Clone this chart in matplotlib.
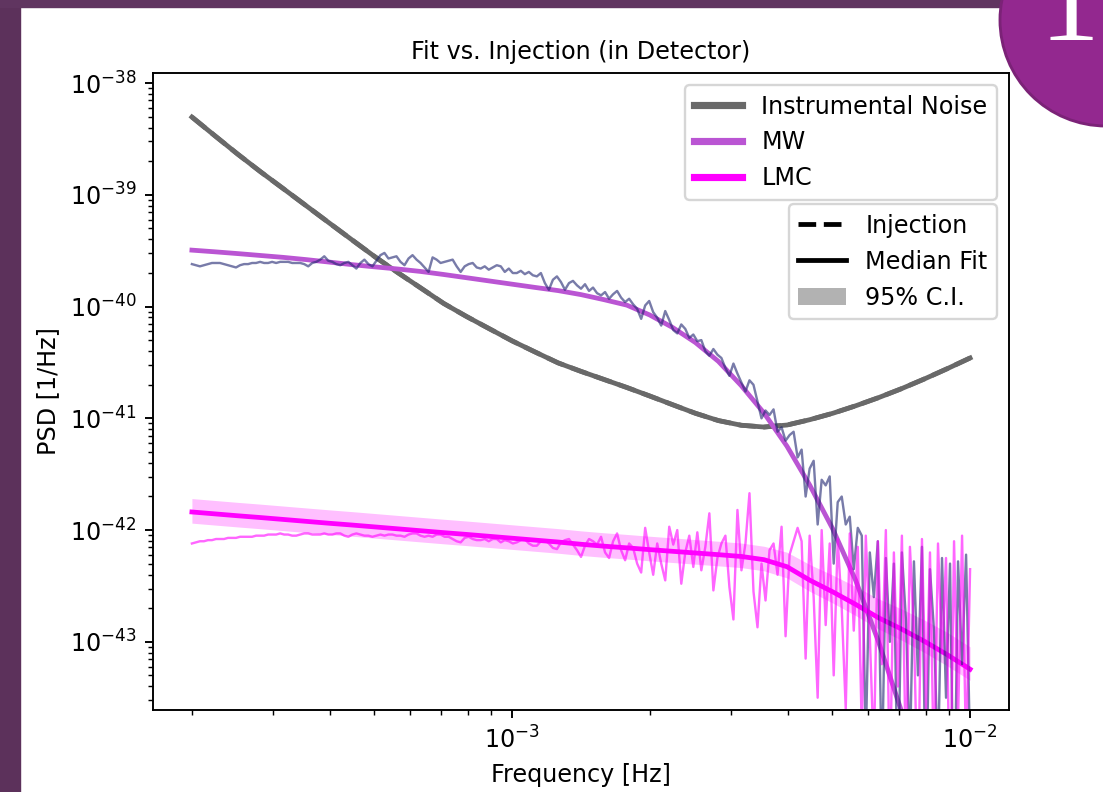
import numpy as np
import matplotlib
matplotlib.use("Agg")
import matplotlib.pyplot as plt
from matplotlib.lines import Line2D
from matplotlib.patches import Patch, Rectangle, Circle

# smooth curves, log10(PSD) read every 0.05 decade from 2e-4 to 1e-2 Hz
noise_psd = [-38.304, -38.471, -38.636, -38.794, -38.946, -39.099, -39.252, -39.404, -39.555, -39.697,
             -39.834, -39.972, -40.089, -40.199, -40.308, -40.407, -40.504, -40.580, -40.652, -40.724,
             -40.800, -40.878, -40.955, -41.020, -41.062, -41.078, -41.060, -41.012, -40.955, -40.888,
             -40.815, -40.735, -40.648, -40.556, -40.460]
mw_fit = [-39.495, -39.510, -39.526, -39.543, -39.560, -39.580, -39.602, -39.625, -39.645, -39.664,
          -39.686, -39.713, -39.742, -39.771, -39.800, -39.829, -39.857, -39.893, -39.938, -39.987,
          -40.075, -40.187, -40.322, -40.490, -40.707, -40.954, -41.250, -41.600, -41.990, -42.450,
          -43.000, -43.620, -44.300, -45.050, -45.850]
lmc_fit = [-41.838, -41.855, -41.872, -41.888, -41.905, -41.922, -41.939, -41.955, -41.972, -41.989,
           -42.006, -42.023, -42.039, -42.056, -42.073, -42.090, -42.107, -42.127, -42.144, -42.159,
           -42.175, -42.190, -42.205, -42.220, -42.236, -42.265, -42.328, -42.449, -42.553, -42.665,
           -42.785, -42.885, -42.995, -43.115, -43.245]
lmc_hi = [-41.718, -41.735, -41.752, -41.768, -41.785, -41.802, -41.819, -41.835, -41.852, -41.869,
          -41.886, -41.903, -41.919, -41.936, -41.953, -41.970, -41.987, -42.007, -42.024, -42.039,
          -42.055, -42.070, -42.085, -42.100, -42.116, -42.145, -42.198, -42.309, -42.403, -42.505,
          -42.615, -42.705, -42.805, -42.915, -43.045]
lmc_lo = [-41.938, -41.955, -41.972, -41.988, -42.005, -42.022, -42.039, -42.055, -42.072, -42.089,
          -42.106, -42.123, -42.139, -42.156, -42.173, -42.190, -42.207, -42.227, -42.244, -42.259,
          -42.275, -42.290, -42.305, -42.320, -42.336, -42.365, -42.428, -42.549, -42.653, -42.765,
          -42.885, -42.985, -43.095, -43.215, -43.345]

# injected data (log10 PSD), log spaced bins from 2e-4 to 1e-2 Hz
mw_data = [
    -39.62, -39.63, -39.64, -39.63, -39.62, -39.61, -39.61, -39.61, -39.62, -39.63,
    -39.64, -39.65, -39.63, -39.62, -39.62, -39.61, -39.61, -39.60, -39.61, -39.61,
    -39.60, -39.61, -39.60, -39.60, -39.60, -39.61, -39.61, -39.61, -39.62, -39.64,
    -39.61, -39.60, -39.58, -39.55, -39.59,
    -39.60, -39.62, -39.63, -39.61, -39.60, -39.63, -39.66, -39.61, -39.58, -39.62,
    -39.64, -39.59, -39.54, -39.52, -39.57, -39.56, -39.55, -39.60, -39.63, -39.57,
    -39.54, -39.58, -39.61, -39.65, -39.69, -39.56, -39.58, -39.61, -39.60, -39.59,
    -39.58, -39.64, -39.69, -39.64, -39.62, -39.61, -39.65,
    -39.66, -39.64, -39.67, -39.65, -39.63, -39.64, -39.69, -39.66, -39.70, -39.70,
    -39.68, -39.71, -39.69, -39.72, -39.73, -39.70, -39.79, -39.85, -39.76, -39.73,
    -39.78, -39.85, -39.79, -39.77, -39.81, -39.84, -39.80, -39.86, -39.83, -39.88,
    -39.90, -39.87, -39.93, -39.89, -39.86, -39.92, -39.96, -39.93, -39.98, -40.02,
    -40.11, -39.99, -39.95, -40.05, -40.10, -40.17, -40.04, -40.12, -40.21, -40.24,
    -40.16, -40.20, -40.28, -40.25, -40.31,
    -40.30, -40.40, -40.44, -40.38, -40.43, -40.46, -40.55, -40.62, -40.51, -40.60,
    -40.68, -40.76, -40.66, -40.70, -40.85, -41.00, -40.93, -40.97, -40.92, -41.12,
    -41.08, -41.20, -41.15, -41.12, -41.35,
    -41.28, -41.70, -41.45, -41.38, -41.95, -41.55, -41.60, -41.52, -42.30, -41.75,
    -41.70, -41.95, -41.88, -42.35, -41.98,
    -42.05, -43.90, -42.20, -42.60, -42.10, -44.20, -42.25, -43.00, -42.30, -44.50,
    -42.20, -42.80, -44.00, -42.28, -43.30, -42.15, -44.60, -42.35, -42.90, -44.10,
    -42.25, -43.50, -42.30, -44.80, -42.28, -43.20, -42.22, -44.00,
]
lmc_data = [
    -42.12, -42.11, -42.10, -42.10, -42.09, -42.09, -42.08, -42.08, -42.08, -42.07,
    -42.07, -42.07, -42.06, -42.06, -42.06, -42.06, -42.05, -42.05, -42.05, -42.04,
    -42.04, -42.04, -42.03, -42.04, -42.04, -42.05, -42.05, -42.04, -42.03, -42.03,
    -42.04, -42.04, -42.04, -42.03, -42.04,
    -42.04, -42.03, -42.03, -42.05, -42.06, -42.04, -42.03, -42.04, -42.05, -42.05,
    -42.06, -42.05, -42.04, -42.05, -42.04, -42.04, -42.05, -42.05, -42.06, -42.04,
    -42.03, -42.03, -42.05, -42.06, -42.05, -42.06, -42.04, -42.04, -42.06, -42.06,
    -42.08, -42.10, -42.11, -42.07, -42.06, -42.08, -42.09,
    -42.09, -42.08, -42.10, -42.08, -42.08, -42.11, -42.09, -42.10, -42.12, -42.11,
    -42.09, -42.08, -42.12, -42.14, -42.14, -42.10, -42.09, -42.12, -42.16, -42.17,
    -42.11, -42.09, -42.08, -42.13, -42.18, -42.24, -42.14, -42.08, -42.10, -42.13,
    -42.06, -42.20, -42.25, -42.10, -42.03, -42.18, -42.27, -42.12, -42.16, -42.30,
    -42.38, -41.98, -42.20, -42.40, -42.12, -42.30, -42.45, -41.97, -42.13, -42.00,
    -42.48, -42.20, -42.05, -42.33, -42.02,
    -42.36, -42.15, -41.85, -42.54, -42.25, -42.12, -42.05, -42.51, -42.80, -41.82,
    -42.36, -42.12, -41.67, -42.55, -42.87, -42.30, -42.63, -42.18, -42.12, -42.40,
    -41.97, -42.95, -42.22, -42.10, -41.98,
    -42.10, -43.15, -42.05, -42.60, -43.50, -42.00, -42.85, -42.12, -43.30, -42.08,
    -42.70, -43.60, -42.03, -42.90, -42.15,
    -43.80, -42.05, -42.95, -44.00, -42.10, -43.20, -42.00, -44.30, -42.20, -43.40,
    -42.05, -44.10, -42.15, -42.90, -44.50, -42.08, -43.60, -42.20, -44.20, -42.12,
    -43.10, -42.25, -44.60, -42.10, -43.70, -42.05, -44.00, -42.35,
]

f_fit = np.geomspace(2e-4, 1e-2, len(noise_psd))
f_mw = np.geomspace(2e-4, 1e-2, len(mw_data))
f_lmc = np.geomspace(2e-4, 1e-2, len(lmc_data))

def p(v):
    return 10.0 ** np.array(v)

W, H, DPI = 1103, 792, 172
fig = plt.figure(figsize=(W / DPI, H / DPI), dpi=DPI)
fig.patch.set_facecolor("white")

# slide background bits
fig.add_artist(Rectangle((0, 0), 20 / W, 1, transform=fig.transFigure, color="#5c315b", zorder=-5))
fig.add_artist(Rectangle((0, 1 - 7 / H), 1, 7 / H, transform=fig.transFigure, color="#603560", zorder=-5))

ax = fig.add_axes([153 / W, 1 - 710 / H, (1009 - 153) / W, (710 - 73) / H])

ax.fill_between(f_fit, p(lmc_lo), p(lmc_hi), color="magenta", alpha=0.25, lw=0)
ax.plot(f_fit, p(noise_psd), color="dimgray", ls="--", lw=2)
ax.plot(f_fit, p(noise_psd), color="dimgray", lw=2)
ax.plot(f_fit, p(mw_fit), color="mediumorchid", lw=2)
ax.plot(f_fit, p(lmc_fit), color="magenta", lw=2)
ax.plot(f_mw, p(mw_data), color="#1f2470", alpha=0.6, lw=1.0)
ax.plot(f_lmc, p(lmc_data), color="magenta", alpha=0.6, lw=1.0)

ax.set_xscale("log")
ax.set_yscale("log")
ax.set_ylim(10 ** -43.61, 10 ** -37.91)
ax.set_xlabel("Frequency [Hz]")
ax.set_ylabel("PSD [1/Hz]")
ax.set_title("Fit vs. Injection (in Detector)", fontsize=10)

h1 = [Line2D([], [], color="dimgray", lw=3),
      Line2D([], [], color="mediumorchid", lw=3),
      Line2D([], [], color="magenta", lw=3)]
leg1 = ax.legend(h1, ["Instrumental Noise", "MW", "LMC"], loc="upper right")
ax.add_artist(leg1)
h2 = [Line2D([], [], color="k", ls="--", lw=2),
      Line2D([], [], color="k", lw=2),
      Patch(facecolor="k", alpha=0.3, lw=0)]
ax.legend(h2, ["Injection", "Median Fit", "95% C.I."], loc="upper right", bbox_to_anchor=(1, 0.813))

# slide number badge
fig.add_artist(Circle((1106 / DPI, (H - 20) / DPI), 106 / DPI, transform=fig.dpi_scale_trans,
                      facecolor="#93288f", edgecolor="#7b2277", lw=1.2, zorder=10))
fig.text(1040 / W, 1 - 40 / H, "11", color="white", fontsize=50, family="Liberation Serif",
         ha="left", va="baseline", zorder=11)

fig.savefig("out.png", dpi=DPI)
